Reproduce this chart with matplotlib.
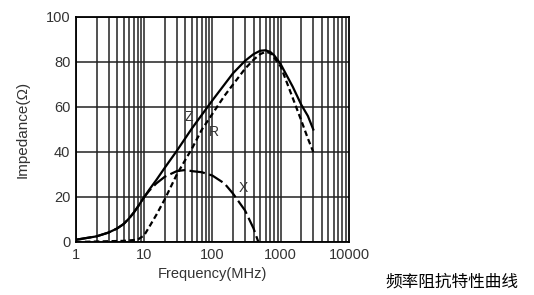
import numpy as np
import matplotlib.pyplot as plt

# curves (frequency in MHz, impedance in ohm)
f_z = [1, 2, 3, 4, 5, 6, 7, 8, 10, 12, 15, 20, 30, 50, 100, 200, 300, 400, 500, 600, 700, 800,
       1000, 1500, 2000, 2500, 3000]
z = [1, 2.5, 4.2, 6, 8, 10.5, 13, 15.5, 20, 23.5, 27.5, 33, 40.5, 50.5, 63, 75, 80.5, 83.5, 85, 85.2,
     84.5, 83, 79, 69, 61, 56, 50]

f_r = [1, 5, 8, 10, 12, 15, 20, 30, 40, 50, 70, 100, 150, 200, 300, 400, 500, 600, 700, 800,
       1000, 1500, 2000, 2500, 3000]
r = [0, 0.5, 1, 3, 7, 12, 19, 30, 36.5, 41.5, 50, 57, 65, 70, 77, 81, 83.5, 84.5, 84, 82,
     78, 64, 54, 46, 40]

f_x = [1, 2, 3, 4, 5, 6, 7, 8, 10, 12, 15, 20, 30, 40, 50, 70, 100, 150, 200, 300, 400, 470]
x = [1, 2.5, 4.2, 6, 8, 10.5, 13, 15.5, 20, 23, 26, 29, 31.5, 32, 31.5, 31, 29.5, 26, 21.5, 14, 6, 0]

xticks = [1, 10, 100, 1000, 10000]
yticks = [0, 20, 40, 60, 80, 100]

plt.rcParams['font.family'] = ['Liberation Sans', 'DejaVu Sans']

fig = plt.figure(figsize=(5.34, 2.95), dpi=100)
ax = fig.add_axes([0.1423, 0.1797, 0.5112, 0.7627])

ax.plot(f_z, z, color='black', lw=1.6)
ax.plot(f_r, r, color='black', lw=1.6, ls=(0, (2.5, 1.5)))
ax.plot(f_x, x, color='black', lw=1.6, ls=(0, (7, 2)))

ax.set_xscale('log')
ax.set_xlim(1, 10000)
ax.set_ylim(0, 100)
ax.set_xticks(xticks)
ax.set_xticklabels([str(t) for t in xticks])
ax.set_yticks(yticks)
ax.minorticks_off()

# grid at every 1..9 x decade
for dec in [1, 10, 100, 1000]:
    for m in range(1, 10):
        ax.axvline(dec * m, color='#222222', lw=1.1, zorder=0)
for t in yticks:
    ax.axhline(t, color='#222222', lw=1.1, zorder=0)

ax.tick_params(length=0, pad=4, labelsize=10.5, labelcolor='#333333')
for s in ax.spines.values():
    s.set_linewidth(1.3)

ax.text(45, 55.6, 'Z', fontsize=10, color='#333333', ha='center', va='center')
ax.text(105, 48.9, 'R', fontsize=10, color='#333333', ha='center', va='center')
ax.text(280, 24, 'X', fontsize=10, color='#333333', ha='center', va='center')

ax.set_xlabel('Frequency(MHz)', fontsize=10.5, color='#333333', labelpad=4)
ax.set_ylabel('Impedance(Ω)', fontsize=11, color='#333333', labelpad=12)

fig.text(452 / 534, 1 - 282 / 295, '频率阻抗特性曲线', fontsize=12, ha='center', va='center',
         family=['Noto Sans CJK SC', 'DejaVu Sans'])

fig.savefig('out.png', dpi=100)
